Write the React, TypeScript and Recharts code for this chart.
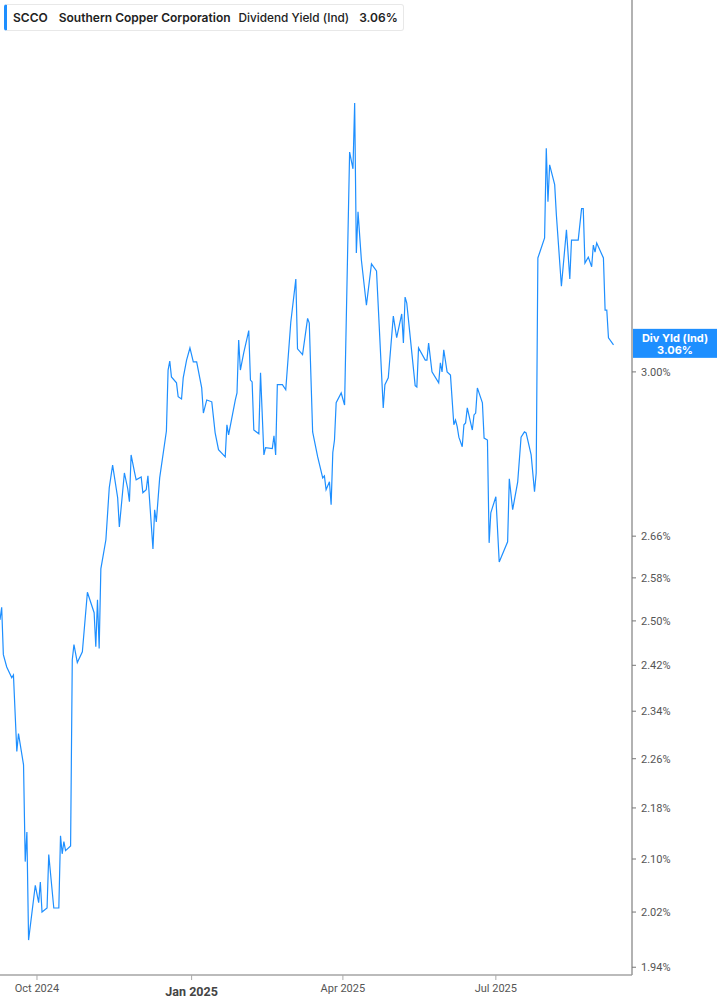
import React from "react";
import { Line, LineChart, ReferenceLine, XAxis, YAxis } from "recharts";

// days counted from 2024-09-09
const days = [
  0, 1, 2, 4, 7, 8, 10, 11, 14, 15, 16, 17, 21, 23, 24, 25, 28, 29, 32, 35,
  36, 37, 38, 39, 42, 43, 44, 46, 49, 52, 56, 57, 58, 59, 60, 63, 65, 67, 70, 71,
  74, 76, 77, 78, 80, 81, 84, 85, 87, 88, 91, 92, 93, 95, 99, 100, 101, 102, 105, 106,
  108, 109, 111, 113, 115, 117, 120, 121, 123, 126, 128, 130, 134, 135, 136, 140, 141, 142, 143, 145,
  148, 149, 150, 151, 154, 155, 157, 158, 162, 163, 164, 165, 168, 170, 173, 176, 177, 180, 183, 184,
  186, 189, 192, 193, 194, 196, 197, 198, 199, 200, 203, 205, 208, 210, 211, 212, 213, 215, 218, 221,
  224, 228, 229, 231, 234, 236, 239, 240, 241, 242, 247, 248, 249, 253, 254, 255, 257, 261, 262, 263,
  264, 266, 268, 270, 271, 272, 273, 275, 276, 277, 278, 281, 282, 283, 284, 287, 288, 290, 291, 292,
  295, 297, 302, 303, 305, 308, 310, 312, 313, 316, 318, 319, 320, 321, 324, 325, 326, 327, 330, 331,
  334, 337, 339, 340, 344, 346, 347, 348, 350, 352, 353, 354, 355, 359, 360, 361, 362, 365,
];

const yields = [
  2.502, 2.525, 2.439, 2.417, 2.398, 2.403, 2.272, 2.302, 2.25, 2.096, 2.142, 1.979, 2.06, 2.034, 2.065, 2.02, 2.026, 2.107, 2.026, 2.026,
  2.136, 2.108, 2.127, 2.113, 2.12, 2.43, 2.457, 2.425, 2.444, 2.553, 2.515, 2.453, 2.539, 2.45, 2.597, 2.653, 2.756, 2.802, 2.736, 2.678,
  2.786, 2.754, 2.728, 2.823, 2.788, 2.772, 2.778, 2.746, 2.752, 2.78, 2.635, 2.712, 2.688, 2.776, 2.873, 3.004, 3.024, 2.989, 2.976, 2.946,
  2.941, 2.987, 3.026, 3.053, 3.022, 3.022, 2.965, 2.911, 2.939, 2.935, 2.869, 2.834, 2.819, 2.886, 2.865, 2.939, 2.954, 3.071, 3.004, 3.042,
  3.092, 2.982, 2.978, 2.875, 2.867, 2.998, 2.823, 2.838, 2.836, 2.863, 2.823, 2.972, 2.972, 2.961, 3.111, 3.211, 3.051, 3.038, 3.12, 3.109,
  2.871, 2.819, 2.776, 2.78, 2.752, 2.768, 2.722, 2.828, 2.854, 2.933, 2.954, 2.928, 3.524, 3.481, 3.653, 3.273, 3.373, 3.256, 3.15, 3.247,
  3.23, 2.922, 2.972, 2.987, 3.125, 3.076, 3.13, 3.064, 3.169, 3.155, 2.97, 2.967, 3.053, 3.026, 3.026, 3.064, 3.0, 2.976, 3.02, 3.0,
  3.049, 3.0, 2.993, 2.886, 2.896, 2.882, 2.86, 2.84, 2.886, 2.89, 2.922, 2.875, 2.907, 2.911, 2.965, 2.933, 2.858, 2.854, 2.647, 2.706,
  2.738, 2.61, 2.649, 2.774, 2.712, 2.768, 2.86, 2.871, 2.869, 2.823, 2.748, 2.786, 3.261, 3.273, 3.309, 3.534, 3.398, 3.491, 3.441, 3.366,
  3.194, 3.329, 3.211, 3.304, 3.304, 3.381, 3.381, 3.249, 3.263, 3.24, 3.292, 3.275, 3.297, 3.261, 3.139, 3.139, 3.076, 3.06,
];

const xTickDays = [22, 114, 204, 295];
const xTickLabels = ["Oct 2024", "Jan 2025", "Apr 2025", "Jul 2025"];
const yTicks = [1.94, 2.02, 2.1, 2.18, 2.26, 2.34, 2.42, 2.5, 2.58, 2.66, 3.0];
const lastYield = 3.06;

const data = days.map((day, i) => ({ day, value: yields[i] }));

const BLUE = "#1E8FFF";

function XTick({ x, y, payload }: any) {
  const i = xTickDays.indexOf(payload.value);
  const label = xTickLabels[i];
  const isYear = label && label.startsWith("Jan");
  return (
    <text
      x={x}
      y={isYear ? y + 14 : y + 10}
      textAnchor="middle"
      fontFamily="Roboto, sans-serif"
      fontSize={isYear ? 12.5 : 11}
      fontWeight={isYear ? 700 : 400}
      fill={isYear ? "#444" : "#555"}
    >
      {label}
    </text>
  );
}

function LastValueTag({ viewBox }: any) {
  if (!viewBox) return null;
  const left = viewBox.x + viewBox.width + 1;
  const top = viewBox.y - 16;
  return (
    <g>
      <rect x={left} y={top} width={84} height={29} fill={BLUE} />
      <text
        x={left + 42}
        y={top + 13}
        textAnchor="middle"
        fill="#fff"
        fontFamily="Inter, sans-serif"
        fontWeight={700}
        fontSize={11}
      >
        Div Yld (Ind)
      </text>
      <text
        x={left + 42}
        y={top + 25}
        textAnchor="middle"
        fill="#fff"
        fontFamily="Inter, sans-serif"
        fontWeight={700}
        fontSize={11}
      >
        {lastYield.toFixed(2)}%
      </text>
    </g>
  );
}

export default function App() {
  return (
    <div style={{ position: "absolute", left: 0, top: 0, width: 717, height: 1005, background: "#fff" }}>
      <LineChart width={717} height={1005} data={data} margin={{ top: 0, right: 0, bottom: 0, left: 0 }}>
        <XAxis
          dataKey="day"
          type="number"
          domain={[0, 376]}
          ticks={xTickDays}
          tick={<XTick />}
          tickSize={5}
          tickLine={{ stroke: "#aaa" }}
          axisLine={{ stroke: "#bbb", strokeWidth: 2 }}
          height={30}
          interval={0}
        />
        <YAxis
          orientation="right"
          scale="log"
          domain={[1.929, 3.939]}
          allowDataOverflow
          ticks={yTicks}
          interval={0}
          width={85}
          tickSize={4}
          tickMargin={5}
          tickLine={{ stroke: "#777" }}
          axisLine={{ stroke: "#999", strokeWidth: 1.5 }}
          tick={{ fill: "#555", fontSize: 11, fontFamily: "Roboto, sans-serif" }}
          tickFormatter={(v: number) => `${v.toFixed(2)}%`}
        />
        <Line
          type="linear"
          dataKey="value"
          stroke={BLUE}
          strokeWidth={1.2}
          dot={false}
          activeDot={false}
          isAnimationActive={false}
        />
        <ReferenceLine y={lastYield} strokeOpacity={0} label={<LastValueTag />} />
      </LineChart>
      <div
        style={{
          position: "absolute",
          left: 4,
          top: 4,
          width: 400,
          height: 27,
          boxSizing: "border-box",
          border: "1px solid #e8e8e8",
          borderLeft: `3px solid ${BLUE}`,
          borderRadius: 3,
          background: "#fff",
          display: "flex",
          alignItems: "center",
          fontFamily: "Inter, sans-serif",
          fontSize: 12,
          fontWeight: 600,
          color: "#222",
          whiteSpace: "nowrap",
        }}
      >
        <span style={{ marginLeft: 6 }}>SCCO</span>
        <span style={{ marginLeft: 11 }}>Southern Copper Corporation</span>
        <span style={{ marginLeft: 8, fontWeight: 500, fontSize: 11.8 }}>Dividend Yield (Ind)</span>
        <span style={{ marginLeft: 10 }}>3.06%</span>
      </div>
    </div>
  );
}
